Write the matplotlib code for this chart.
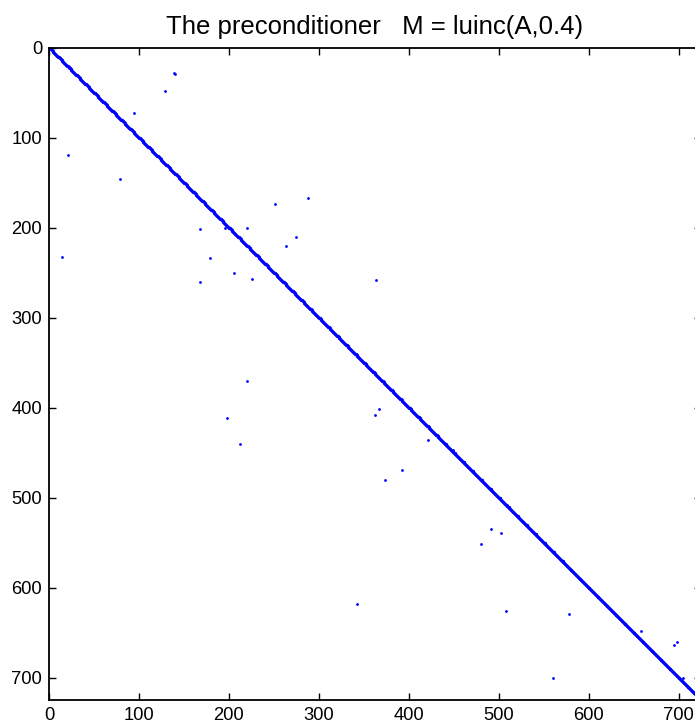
import numpy as np
import matplotlib
matplotlib.use("Agg")
import matplotlib.pyplot as plt

plt.rcParams['font.family'] = ['Liberation Sans', 'DejaVu Sans']

# size of the preconditioner matrix (full diagonal)
n = 724

# off-diagonal nonzeros of M (column, row)
off_cols = [22, 139, 140, 129, 94, 21, 79, 168, 196, 220, 251, 288, 263, 275,
            14, 179, 206, 226, 168, 364, 220, 198, 212,
            367, 363, 421, 449, 393, 374, 501, 509, 491, 503, 480,
            343, 508, 578, 658, 698, 695, 560, 705]
off_rows = [23, 28, 29, 48, 73, 119, 146, 202, 200, 200, 174, 167, 221, 210,
            233, 234, 250, 257, 261, 258, 371, 412, 440,
            402, 408, 436, 447, 469, 481, 500, 508, 535, 539, 552,
            618, 626, 629, 648, 661, 664, 701, 700]

diag = np.arange(1, n + 1)

fig = plt.figure(figsize=(6.95, 7.25), dpi=100)
ax = fig.add_axes([49 / 695, 25 / 725, 652 / 695, 652.5 / 725])

mk = dict(linestyle='none', marker='o', markeredgewidth=0, color=(0, 0, 1))
ax.plot(diag, diag, markersize=2.4, **mk)
ax.plot(off_cols, off_rows, markersize=2.0, **mk)

ax.set_xlim(0, n + 1)
ax.set_ylim(n + 1, 0)
ax.set_xticks(np.arange(0, 701, 100))
ax.set_yticks(np.arange(0, 701, 100))
ax.tick_params(direction='in', length=5, width=1, top=True, right=True,
               labelsize=13.2, pad=5)
for s in ax.spines.values():
    s.set_linewidth(1.3)

ax.set_title('The preconditioner   M = luinc(A,0.4)', fontsize=18.5, pad=10)

fig.savefig('out.png', dpi=100)
